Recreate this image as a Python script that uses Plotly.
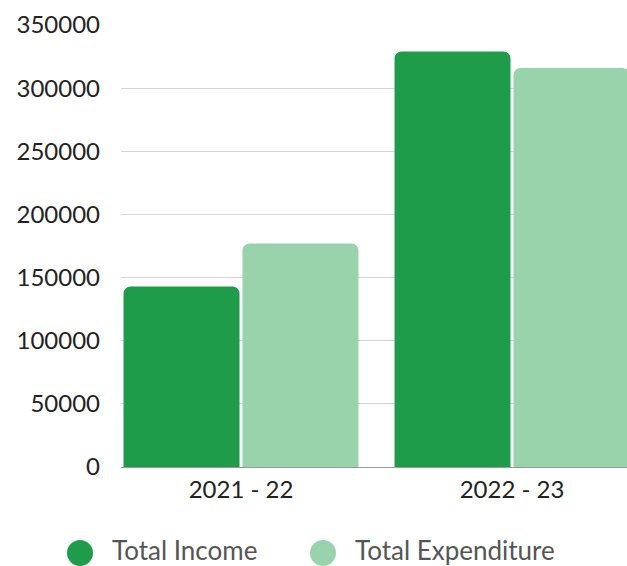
import plotly.graph_objects as go

categories = ["2021 - 22", "2022 - 23"]
series_names = ["Total Income", "Total Expenditure"]
income = [143000, 329000]
expenditure = [177000, 316000]
colors = ["#1f9c4a", "#99d3ac"]
y_ticks = [0, 50000, 100000, 150000, 200000, 250000, 300000, 350000]

FONT = "Lato, 'Open Sans', sans-serif"

fig = go.Figure()
for name, vals, col in zip(series_names, [income, expenditure], colors):
    fig.add_trace(go.Bar(
        x=categories, y=vals, name=name,
        marker=dict(color=col, cornerradius=7, line=dict(width=0)),
        showlegend=False,
    ))

W, H = 627, 566
L, T = 121, 25
plot_bottom = 467
R, B = 0, H - plot_bottom
pw, ph = W - L - R, H - T - B
unit = 271.0
c0 = 241.0

fig.update_layout(
    width=W, height=H,
    margin=dict(l=L, r=R, t=T, b=B, pad=0),
    paper_bgcolor="white", plot_bgcolor="white",
    barmode="group", bargap=0.122, bargroupgap=0.025,
    font=dict(family=FONT, color="#222"),
    xaxis=dict(
        type="category",
        range=[-(c0 - L) / unit, (W - c0) / unit],
        showgrid=False, showline=False, ticks="",
        tickfont=dict(size=24, color="#222"),
        ticklabelstandoff=6,
    ),
    yaxis=dict(
        range=[0, 350000],
        tickvals=y_ticks, ticktext=[str(v) for v in y_ticks],
        showgrid=True, gridcolor="#d4d4d4", gridwidth=1,
        zeroline=True, zerolinecolor="#9a9a9a", zerolinewidth=1,
        showline=False, ticks="",
        tickfont=dict(size=24, color="#222"),
        ticklabelstandoff=20,
    ),
)

# legend drawn as shapes + text (circle markers)
circle_y = 553
text_y = 549.5
leg_items = [(80, 110), (323, 353)]
for (cx, tx), name, col in zip(leg_items, series_names, colors):
    fig.add_shape(
        type="circle", xref="paper", yref="paper",
        xsizemode="pixel", ysizemode="pixel",
        xanchor=(cx - L) / pw, yanchor=(plot_bottom - circle_y) / ph,
        x0=-13, x1=13, y0=-13, y1=13,
        fillcolor=col, line=dict(width=0),
    )
    fig.add_annotation(
        x=(tx - L) / pw, y=(plot_bottom - text_y) / ph, xref="paper", yref="paper",
        text=name, showarrow=False, xanchor="left", yanchor="middle",
        font=dict(size=26, color="#555", family=FONT),
    )

fig.write_html(
    "out.html",
    config={"displayModeBar": False},
    post_script="document.body.style.margin='0';document.body.style.overflow='hidden';",
)
